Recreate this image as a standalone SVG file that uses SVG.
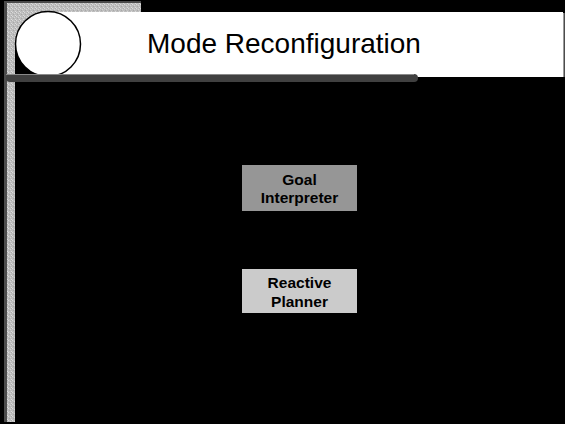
<svg xmlns="http://www.w3.org/2000/svg" width="565" height="424" viewBox="0 0 565 424">
  <defs>
    <pattern id="tex" width="4" height="4" patternUnits="userSpaceOnUse">
      <rect width="4" height="4" fill="#bdbdbd"/>
      <rect x="0" y="0" width="1" height="1" fill="#dadada"/>
      <rect x="2" y="1" width="1" height="1" fill="#d4d4d4"/>
      <rect x="1" y="2" width="1" height="1" fill="#a8a8a8"/>
      <rect x="3" y="3" width="1" height="1" fill="#dcdcdc"/>
      <rect x="3" y="0" width="1" height="1" fill="#acacac"/>
    </pattern>
    <style>
      .node-dark { fill: #969696; }
      .node-light { fill: #cbcbcb; }
      .lbl { font-family: "Liberation Sans", Arial, sans-serif; font-weight: bold; font-size: 15.5px; fill: #000; text-anchor: middle; }
      .title { font-family: "Liberation Sans", Arial, sans-serif; font-size: 28px; fill: #000; }
    </style>
  </defs>

  <!-- background -->
  <rect x="0" y="0" width="565" height="424" fill="#000"/>

  <!-- frame: dark outline + textured band -->
  <rect x="4" y="1" width="136" height="421" fill="#4a4a4a"/>
  <rect x="140" y="1" width="1" height="2" fill="#4a4a4a"/>
  <rect x="7" y="3" width="134" height="9" fill="url(#tex)"/>
  <rect x="7" y="3" width="8" height="419" fill="url(#tex)"/>
  <rect x="15" y="12" width="126" height="410" fill="#000"/>
  <rect x="15" y="12" width="33" height="32" fill="url(#tex)"/>

  <!-- title panel -->
  <rect x="48" y="12" width="515" height="65" fill="#fff"/>
  <rect x="563" y="13" width="1.5" height="64" fill="#9a9a9a"/>
  <circle cx="48" cy="44" r="32.5" fill="#fff" stroke="#000" stroke-width="1.5"/>
  <rect x="6" y="74" width="412" height="8" rx="4" fill="#404040"/>
  <rect x="6" y="74" width="408" height="1" fill="#8a8a8a"/>
  <text class="title" x="147" y="53">Mode Reconfiguration</text>

  <g id="connectors"></g>

  <g id="goal-interpreter">
    <rect class="node-dark" x="242" y="165" width="115" height="46"/>
    <text class="lbl" x="299.5" y="185">Goal</text>
    <text class="lbl" x="299.5" y="203">Interpreter</text>
  </g>

  <g id="reactive-planner">
    <rect class="node-light" x="242" y="269" width="115" height="44"/>
    <text class="lbl" x="299.5" y="288">Reactive</text>
    <text class="lbl" x="299.5" y="307">Planner</text>
  </g>
</svg>
